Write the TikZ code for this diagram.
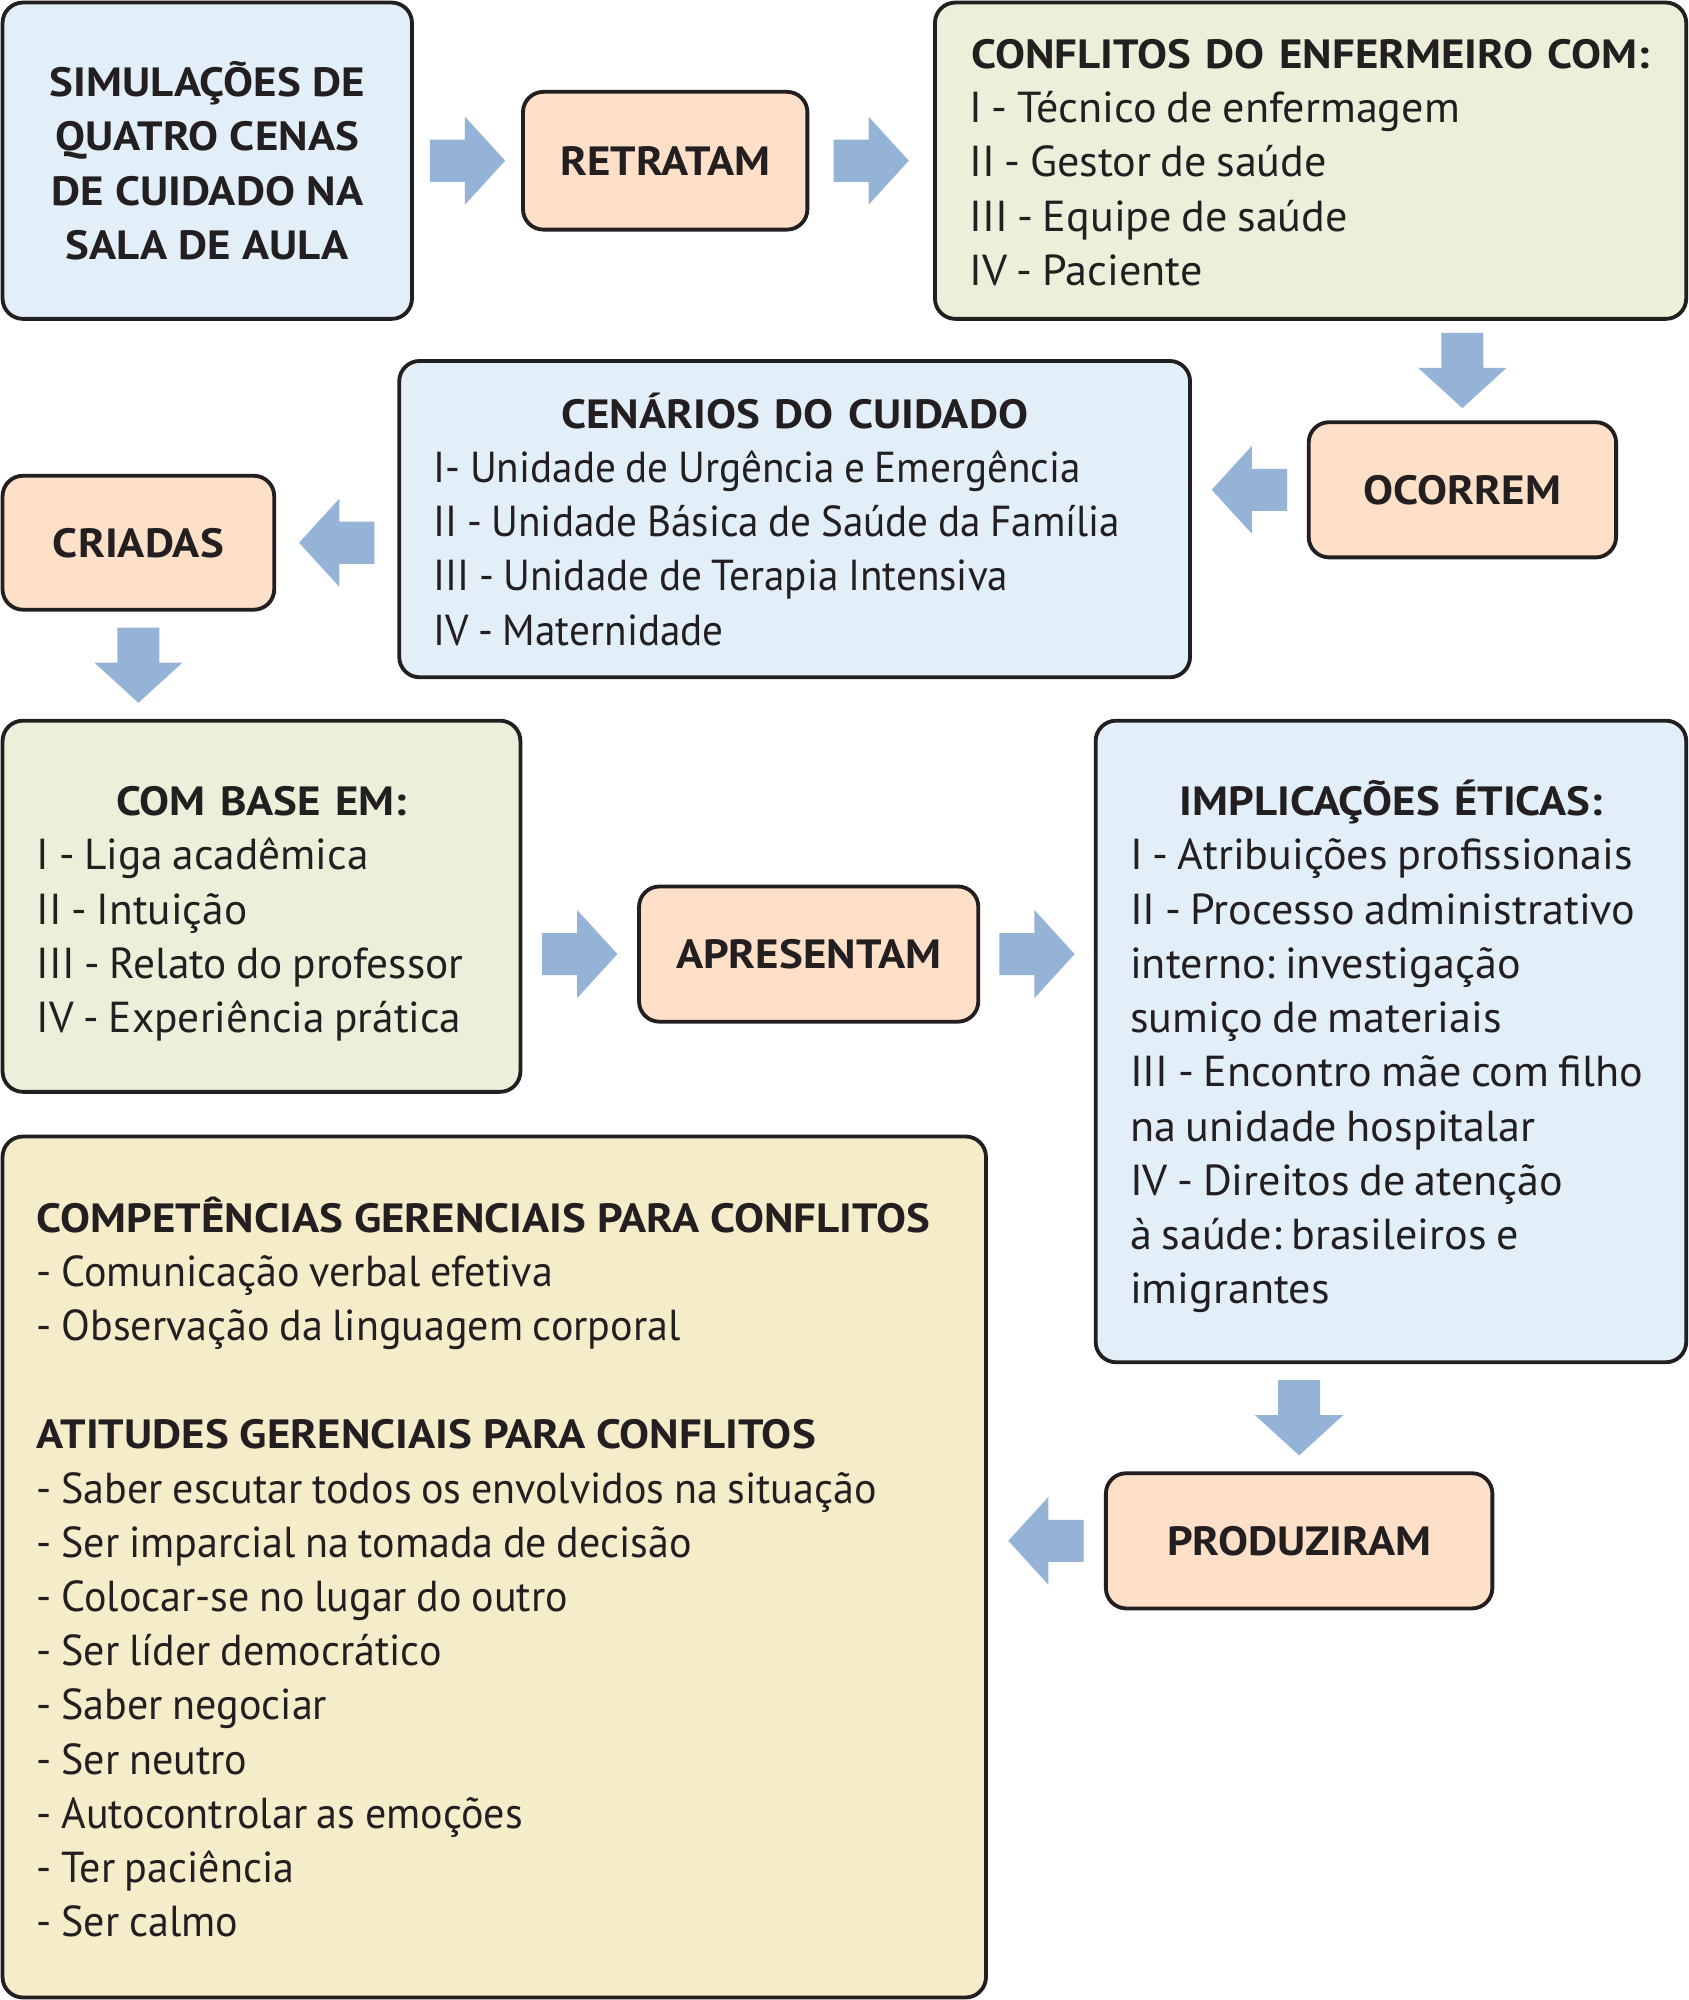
\documentclass[tikz,border=0pt]{standalone}
\usepackage{fontspec}
\setmainfont{PT Sans}[BoldFeatures={FakeStretch=1.1}]
\newfontfamily\condf{PT Sans}[FakeStretch=0.97]
\newfontfamily\condg{PT Sans}[FakeStretch=0.95]
\newfontfamily\wideh{PT Sans}[FakeStretch=1.018]
\usetikzlibrary{calc}
\definecolor{bxblue}{HTML}{E2EFF8}
\definecolor{bxpeach}{HTML}{FDE0C7}
\definecolor{bxgreen}{HTML}{EBF0DA}
\definecolor{bxyellow}{HTML}{F5EDCA}
\definecolor{arrblue}{HTML}{95B3D7}
\definecolor{edgec}{HTML}{231F20}
\newcommand{\regf}{\fontsize{17}{21.25}\selectfont}
\newcommand{\boldf}{\fontsize{16}{21.25}\selectfont\bfseries}
\newcommand{\ttl}[2][0pt]{\makebox[\linewidth][c]{\raisebox{0pt}[\dimexpr\height+#1\relax]{\boldf #2}}}
\newcommand{\sps}{\spaceskip=0.22em\xspaceskip=0.22em\relax}
\newcommand{\lne}[1]{\mbox{\sps #1}}
\newcommand{\lnh}[1]{\mbox{\wideh\sps #1}}
\newcommand{\lnf}[1]{\mbox{\condf\sps #1}}
\newcommand{\lng}[1]{\mbox{\condg\sps #1}}
\newcommand{\hdc}[1]{\mbox{\boldf\spaceskip=0.27em\relax #1}}
\newcommand{\blockarrow}[3]{%
  \fill[arrblue, shift={($(#1)!0.5!(#2)$)}, rotate=#3]
    (-29.5,-16.5) -- (-2,-16.5) -- (-2,-34.5) -- (29.5,0) -- (-2,34.5) -- (-2,16.5) -- (-29.5,16.5) -- cycle;}
\tikzset{
  box/.style={draw=edgec, line width=1.5pt, rounded corners=8pt, inner sep=0pt, outer sep=0pt, text=edgec},
  listbox/.style={box, align=left, inner xsep=13.5pt, font=\regf},
  wordbox/.style={box, fill=bxpeach, align=center, font=\boldf},
}
\begin{document}
\begin{tikzpicture}[x=0.5pt,y=-0.5pt]
\useasboundingbox (0,0) rectangle (1324,1568);
\fill[white] (0,0) rectangle (1324,1568);

\node[box, fill=bxblue, align=center, font=\boldf, minimum width=160.5pt, minimum height=124pt] (sim) at (162.5,126)
  {SIMULAÇÕES DE\\QUATRO CENAS\\DE CUIDADO NA\\SALA DE AULA};
\node[wordbox, minimum width=111.5pt, minimum height=54pt] (retr) at (521.5,126) {RETRATAM};
\node[listbox, fill=bxgreen, minimum width=294.5pt, minimum height=124pt, text width=267.5pt] (conf) at (1027.5,126)
  {\ttl[1.5pt]{CONFLITOS DO ENFERMEIRO COM:}\\
   \lnh{I - Técnico de enfermagem}\\
   \lnh{II - Gestor de saúde}\\
   \lnh{III - Equipe de saúde}\\
   \lnh{IV - Paciente}};
\node[wordbox, minimum width=120.5pt, minimum height=53pt] (ocor) at (1146.5,384) {OCORREM};
\node[listbox, fill=bxblue, minimum width=310pt, minimum height=124pt, text width=283pt] (cena) at (623,407)
  {\ttl{CENÁRIOS DO CUIDADO}\\
   \lng{I- Unidade de Urgência e Emergência}\\
   \lng{II - Unidade Básica de Saúde da Família}\\
   \lng{III - Unidade de Terapia Intensiva}\\
   \lng{IV - Maternidade}};
\node[wordbox, minimum width=106.5pt, minimum height=52.5pt] (cria) at (108.5,425.5) {CRIADAS};
\node[listbox, fill=bxgreen, minimum width=203pt, minimum height=145.5pt, text width=176pt] (base) at (205,710.5)
  {\ttl[6pt]{COM BASE EM:}\\
   \lne{I - Liga acadêmica}\\
   \lne{II - Intuição}\\
   \lne{III - Relato do professor}\\
   \lne{IV - Experiência prática}};
\node[wordbox, minimum width=133pt, minimum height=53pt] (apre) at (634,748) {APRESENTAM};
\node[listbox, fill=bxblue, minimum width=231.5pt, minimum height=251.5pt, text width=204.5pt] (impl) at (1090.5,816.5)
  {\ttl[4pt]{IMPLICAÇÕES ÉTICAS:}\\
   \lnh{I - Atribuições profissionais}\\
   \lnh{II - Processo administrativo}\\
   \lnh{interno: investigação}\\
   \lnh{sumiço de materiais}\\
   \lnh{III - Encontro mãe com filho}\\
   \lnh{na unidade hospitalar}\\
   \lnh{IV - Direitos de atenção}\\
   \lnh{à saúde: brasileiros e}\\
   \lnh{imigrantes}};
\node[wordbox, minimum width=151.5pt, minimum height=53pt] (prod) at (1018.5,1208) {PRODUZIRAM};
\node[listbox, fill=bxyellow, minimum width=385.5pt, minimum height=337.5pt, text width=358.5pt] (comp) at (387.5,1228.5)
  {\hdc{COMPETÊNCIAS GERENCIAIS PARA CONFLITOS}\\
   \lnf{- Comunicação verbal efetiva}\\
   \lnf{- Observação da linguagem corporal}\\
   ~\\
   \hdc{ATITUDES GERENCIAIS PARA CONFLITOS}\\
   \lnf{- Saber escutar todos os envolvidos na situação}\\
   \lnf{- Ser imparcial na tomada de decisão}\\
   \lnf{- Colocar-se no lugar do outro}\\
   \lnf{- Ser líder democrático}\\
   \lnf{- Saber negociar}\\
   \lnf{- Ser neutro}\\
   \lnf{- Autocontrolar as emoções}\\
   \lnf{- Ter paciência}\\
   \lnf{- Ser calmo}};

\blockarrow{sim.east}{retr.west}{0}
\blockarrow{retr.east}{conf.west}{0}
\blockarrow{conf.south -| ocor.north}{ocor.north}{-90}
\blockarrow{ocor.west}{ocor.west -| cena.east}{180}
\blockarrow{cena.west |- cria.east}{cria.east}{180}
\blockarrow{cria.south}{cria.south |- base.north}{-90}
\blockarrow{base.east |- apre.west}{apre.west}{0}
\blockarrow{apre.east}{apre.east -| impl.west}{0}
\blockarrow{impl.south -| prod.north}{prod.north}{-90}
\blockarrow{prod.west}{prod.west -| comp.east}{180}
\end{tikzpicture}
\end{document}
